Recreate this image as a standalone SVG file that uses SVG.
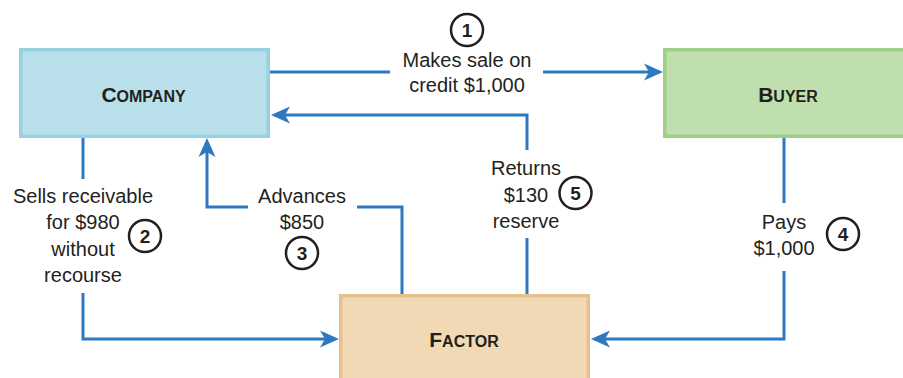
<svg xmlns="http://www.w3.org/2000/svg" width="903" height="378" viewBox="0 0 903 378">
<defs>
<style>
.lbl{font-family:"Liberation Sans",Arial,sans-serif;font-size:20px;fill:#231F20;text-anchor:middle}
.box{font-family:"Liberation Sans",Arial,sans-serif;font-weight:bold;fill:#231F20;text-anchor:middle;font-size:16px}
.big{font-size:21px}
.num{font-family:"Liberation Sans",Arial,sans-serif;font-weight:bold;font-size:19px;fill:#231F20;text-anchor:middle}
.circ{fill:none;stroke:#231F20;stroke-width:2.5}
.con{fill:none;stroke:#2E78C1;stroke-width:3}
.arr{marker-end:url(#ah)}
</style>
<marker id="ah" viewBox="-8 -10 22 20" markerWidth="22" markerHeight="20" refX="0" refY="0" orient="auto" markerUnits="userSpaceOnUse">
<path d="M12,0 L-7,-8.5 L-2,0 L-7,8.5 Z" fill="#2E78C1"/>
</marker>
</defs>
<rect width="903" height="378" fill="#FFFFFF"/>
<g id="company">
<rect x="20.75" y="49.75" width="247.5" height="86.5" fill="#B8DFEA" stroke="#97D1E1" stroke-width="3.5"/>
<text class="box" x="143.5" y="102"><tspan class="big">C</tspan>OMPANY</text>
</g>
<g id="buyer">
<rect x="664.75" y="49.75" width="247.5" height="86.5" fill="#C0DFAF" stroke="#9DCF86" stroke-width="3.5"/>
<text class="box" x="788" y="102"><tspan class="big">B</tspan>UYER</text>
</g>
<g id="factor">
<rect x="340.75" y="295.75" width="247.5" height="86.5" fill="#F1D9B6" stroke="#E6C18E" stroke-width="3.5"/>
<text class="box" x="464" y="347"><tspan class="big">F</tspan>ACTOR</text>
</g>
<g id="connectors">
<path class="con" d="M270,72 H390"/>
<path class="con arr" d="M543,72 H651"/>
<path class="con" d="M527,294 V238"/>
<path class="con arr" d="M527,150 V115 H283"/>
<path class="con" d="M83,138 V179"/>
<path class="con arr" d="M83,293 V339 H327"/>
<path class="con" d="M402,294 V207 H357"/>
<path class="con arr" d="M248,207 H207 V150"/>
<path class="con" d="M784,138 V203"/>
<path class="con arr" d="M784,271 V339 H603"/>
</g>
<g id="labels">
<text class="lbl" x="467" y="67">Makes sale on</text>
<text class="lbl" x="467" y="92">credit $1,000</text>
<text class="lbl" x="83" y="203">Sells receivable</text>
<text class="lbl" x="83" y="229">for $980</text>
<text class="lbl" x="83" y="256">without</text>
<text class="lbl" x="83" y="282">recourse</text>
<text class="lbl" x="302" y="203">Advances</text>
<text class="lbl" x="302" y="229">$850</text>
<text class="lbl" x="526" y="175">Returns</text>
<text class="lbl" x="526" y="202">$130</text>
<text class="lbl" x="526" y="228">reserve</text>
<text class="lbl" x="784" y="229">Pays</text>
<text class="lbl" x="784" y="255">$1,000</text>
</g>
<g id="steps">
<circle class="circ" cx="467" cy="30" r="16"/><text class="num" x="467" y="37">1</text>
<circle class="circ" cx="145" cy="236" r="16"/><text class="num" x="145" y="243">2</text>
<circle class="circ" cx="302" cy="253" r="16"/><text class="num" x="302" y="260">3</text>
<circle class="circ" cx="843" cy="234" r="16"/><text class="num" x="843" y="241">4</text>
<circle class="circ" cx="575.5" cy="193" r="16"/><text class="num" x="575.5" y="200">5</text>
</g>
</svg>
